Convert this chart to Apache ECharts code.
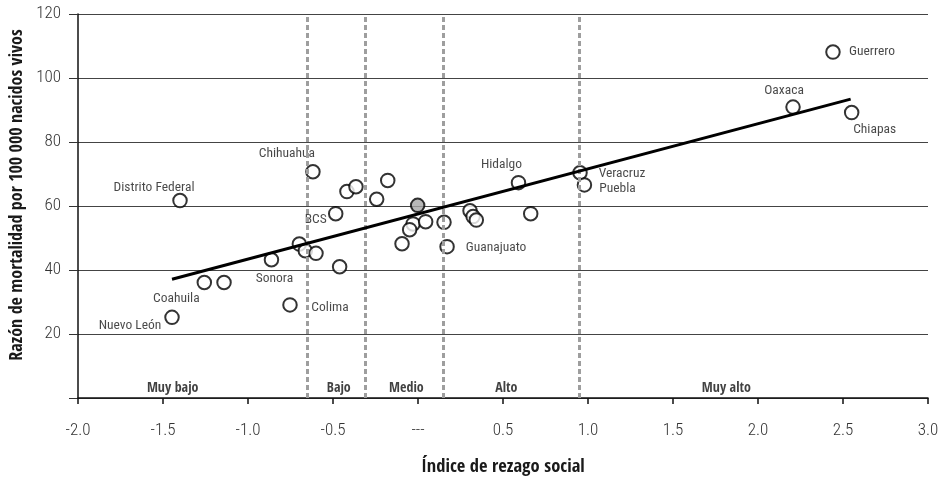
<!DOCTYPE html>
<html>
<head>
<meta charset="utf-8">
<script src="https://cdn.jsdelivr.net/npm/echarts@6/dist/echarts.min.js"></script>
<style>
html,body{margin:0;padding:0;background:#fff;}
#chart{width:944px;height:485px;}
</style>
</head>
<body>
<div id="chart"></div>
<script>
// ---- Data ----
const stateNames = ['Nuevo León','Coahuila','','Sonora','Distrito Federal','Colima','Chihuahua','','','','','','BCS','','','','','','','','','Guanajuato','','','','Hidalgo','','Veracruz','Puebla','Oaxaca','Chiapas','Guerrero'];
const stateX = [-1.447,-1.257,-1.141,-0.862,-1.400,-0.753,-0.618,-0.698,-0.663,-0.600,-0.418,-0.365,-0.484,-0.461,-0.243,-0.178,-0.029,-0.049,-0.094,0.045,0.153,0.171,0.306,0.324,0.343,0.591,0.663,0.953,0.979,2.206,2.551,2.441];
const stateY = [25.2,36.1,36.1,43.2,61.7,29.1,70.7,48.1,46.0,45.2,64.5,66.0,57.6,41.0,62.1,68.0,54.4,52.6,48.2,55.1,54.9,47.3,58.5,56.7,55.6,67.3,57.6,70.4,66.6,90.9,89.2,108.1];
const nationalX = [-0.002];
const nationalY = [60.2];
const trendX = [-1.447, 2.545];
const trendY = [37.1, 93.4];
const cutPoints = [-0.647, -0.306, 0.149, 0.953];
const categoryNames = ['Muy bajo','Bajo','Medio','Alto','Muy alto'];
const categoryX = [-1.443, -0.466, -0.068, 0.52, 1.814];
const xTickLabels = {'-2':'-2.0','-1.5':'-1.5','-1':'-1.0','-0.5':'-0.5','0':'---','0.5':'0.5','1':'1.0','1.5':'1.5','2':'2.0','2.5':'2.5','3':'3.0'};
const yTicks = [20,40,60,80,100,120];

// ---- Styling (label offsets in px) ----
const labelOffsets = {
  'Nuevo León':[-42,8], 'Coahuila':[-28,16], 'Sonora':[3,19], 'Distrito Federal':[-26,-13],
  'Colima':[40,3], 'Chihuahua':[-26,-18], 'BCS':[-20,6], 'Guanajuato':[49,1],
  'Hidalgo':[-17,-18], 'Veracruz':[42,1], 'Puebla':[33,4], 'Oaxaca':[-9,-16],
  'Chiapas':[23,17], 'Guerrero':[39,0]
};
const FONT = "'Roboto Condensed','DejaVu Sans Condensed',sans-serif";
const BOLDFONT = "'Open Sans Condensed','Roboto Condensed',sans-serif";

const stateData = stateX.map((x,i) => {
  const name = stateNames[i];
  const item = {value:[x, stateY[i]], name:name};
  if (name) {
    item.label = {show:true, position:'inside', offset:labelOffsets[name], formatter:name,
      color:'#1a1a1a', fontSize:13.5, fontFamily:FONT, align:'center', verticalAlign:'middle'};
  }
  return item;
});
const nationalData = nationalX.map((x,i)=>[x, nationalY[i]]);
const trendData = trendX.map((x,i)=>[x, trendY[i]]);
const categoryData = categoryX.map((x,i)=>({value:[x, 2.9], name:categoryNames[i]}));

const chart = echarts.init(document.getElementById('chart'), null, {renderer:'canvas'});
chart.setOption({
  animation:false,
  backgroundColor:'#fff',
  grid:{left:78, right:16, top:14, bottom:87},
  xAxis:{
    type:'value', min:-2, max:3, interval:0.5,
    axisLine:{show:true, onZero:false, lineStyle:{color:'#111', width:1.5}},
    axisTick:{show:true, length:6, lineStyle:{color:'#111', width:1.5}},
    splitLine:{show:false},
    axisLabel:{margin:24, fontSize:17, fontWeight:300, fontFamily:FONT, color:'#333',
      formatter:v => xTickLabels[String(Math.round(v*10)/10)] ?? v.toFixed(1)},
    name:'Índice de rezago social', nameLocation:'middle', nameGap:60,
    nameTextStyle:{fontSize:18.5, fontWeight:'bold', fontFamily:BOLDFONT, color:'#1a1a1a'}
  },
  yAxis:{
    type:'value', min:0, max:120, interval:20,
    axisLine:{show:true, onZero:false, lineStyle:{color:'#111', width:1.5}},
    axisTick:{show:true, length:9, lineStyle:{color:'#333', width:1}},
    splitLine:{show:true, lineStyle:{color:'#444', width:1}},
    axisLabel:{margin:17, fontSize:17, fontWeight:300, fontFamily:FONT, color:'#333',
      formatter:v => yTicks.includes(v) ? String(v) : ''}
  },
  graphic:[{
    type:'text', x:17, y:195, rotation:Math.PI/2,
    style:{text:'Razón de mortalidad por 100 000 nacidos vivos', x:0, y:0,
      align:'center', verticalAlign:'middle', fontSize:18, fontWeight:'bold',
      fontFamily:BOLDFONT, fill:'#1a1a1a'}
  }],
  series:[
    {
      type:'line', data:[], silent:true, z:1,
      markLine:{silent:true, symbol:'none', label:{show:false},
        lineStyle:{color:'#9e9e9e', width:3, type:[5,3]},
        data:cutPoints.map(v=>({xAxis:v}))}
    },
    {
      type:'scatter', data:categoryData, symbolSize:1, silent:true, z:2,
      itemStyle:{color:'rgba(0,0,0,0)'},
      label:{show:true, position:'inside', formatter:p=>p.name, color:'#111',
        fontSize:14, fontWeight:'bold', fontFamily:BOLDFONT, align:'center', verticalAlign:'middle'}
    },
    {
      type:'scatter', data:stateData, symbol:'circle', symbolSize:13.5, z:3,
      itemStyle:{color:'#fff', borderColor:'#000', borderWidth:2}
    },
    {
      type:'scatter', data:nationalData, symbol:'circle', symbolSize:13.5, z:3,
      itemStyle:{color:'#a6a6a6', borderColor:'#000', borderWidth:2}
    },
    {
      type:'line', data:trendData, symbol:'none', z:5,
      lineStyle:{color:'#000', width:3}
    }
  ]
});
</script>
</body>
</html>
